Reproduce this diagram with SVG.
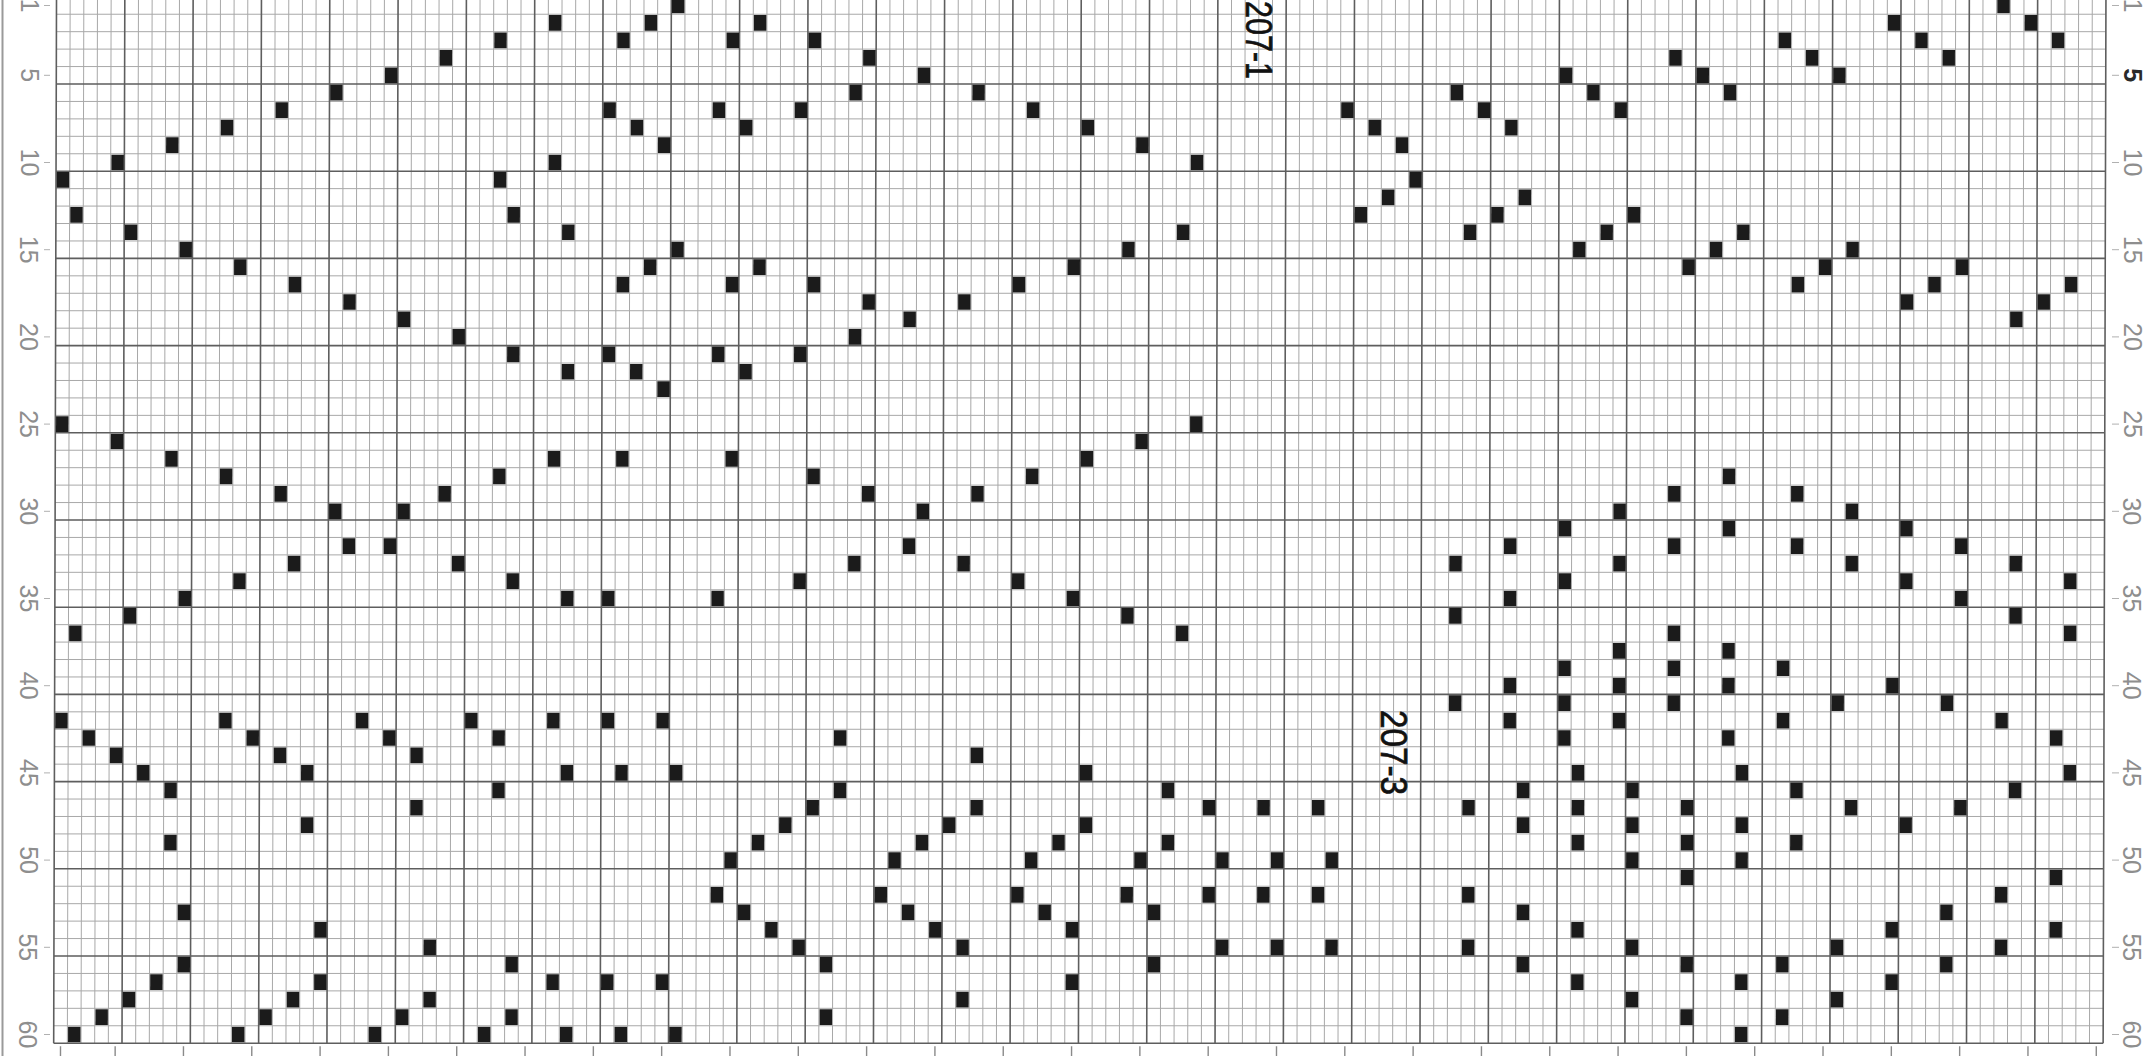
<svg xmlns="http://www.w3.org/2000/svg" width="2151" height="1056" viewBox="0 0 2151 1056">
<style>
.minor{fill:none;stroke:#a8a8a8;stroke-width:1;vector-effect:non-scaling-stroke}
.major{fill:none;stroke:#5e5e5e;stroke-width:1.6;vector-effect:non-scaling-stroke}
.btick{fill:none;stroke:#8a8a8a;stroke-width:1.4;vector-effect:non-scaling-stroke}
.ltick{fill:none;stroke:#b0b0b0;stroke-width:1}
.lbl{font-family:"Liberation Sans",Arial,sans-serif;font-size:25px;fill:#8e8e8e}
.tag{font-family:"Liberation Sans",Arial,sans-serif;font-size:37px;fill:#111;stroke:#111;stroke-width:0.7}
.sq{fill:#1b1b1b}
</style>
<defs><rect id="s" class="sq" x="0.05" y="0.05" width="0.91" height="0.9"/></defs>
<rect width="2151" height="1056" fill="#fff"/>
<line x1="2.5" y1="0" x2="2.5" y2="1056" stroke="#9a9a9a" stroke-width="2"/>
<g id="grid" transform="matrix(13.663 0 -0.0471 17.44 56.51 -3.2)">
<path class="minor" d="M1 0V60M2 0V60M3 0V60M4 0V60M6 0V60M7 0V60M8 0V60M9 0V60M11 0V60M12 0V60M13 0V60M14 0V60M16 0V60M17 0V60M18 0V60M19 0V60M21 0V60M22 0V60M23 0V60M24 0V60M26 0V60M27 0V60M28 0V60M29 0V60M31 0V60M32 0V60M33 0V60M34 0V60M36 0V60M37 0V60M38 0V60M39 0V60M41 0V60M42 0V60M43 0V60M44 0V60M46 0V60M47 0V60M48 0V60M49 0V60M51 0V60M52 0V60M53 0V60M54 0V60M56 0V60M57 0V60M58 0V60M59 0V60M61 0V60M62 0V60M63 0V60M64 0V60M66 0V60M67 0V60M68 0V60M69 0V60M71 0V60M72 0V60M73 0V60M74 0V60M76 0V60M77 0V60M78 0V60M79 0V60M81 0V60M82 0V60M83 0V60M84 0V60M86 0V60M87 0V60M88 0V60M89 0V60M91 0V60M92 0V60M93 0V60M94 0V60M96 0V60M97 0V60M98 0V60M99 0V60M101 0V60M102 0V60M103 0V60M104 0V60M106 0V60M107 0V60M108 0V60M109 0V60M111 0V60M112 0V60M113 0V60M114 0V60M116 0V60M117 0V60M118 0V60M119 0V60M121 0V60M122 0V60M123 0V60M124 0V60M126 0V60M127 0V60M128 0V60M129 0V60M131 0V60M132 0V60M133 0V60M134 0V60M136 0V60M137 0V60M138 0V60M139 0V60M141 0V60M142 0V60M143 0V60M144 0V60M146 0V60M147 0V60M148 0V60M149 0V60"/>
<path class="minor" d="M0 1H150M0 2H150M0 3H150M0 4H150M0 6H150M0 7H150M0 8H150M0 9H150M0 11H150M0 12H150M0 13H150M0 14H150M0 16H150M0 17H150M0 18H150M0 19H150M0 21H150M0 22H150M0 23H150M0 24H150M0 26H150M0 27H150M0 28H150M0 29H150M0 31H150M0 32H150M0 33H150M0 34H150M0 36H150M0 37H150M0 38H150M0 39H150M0 41H150M0 42H150M0 43H150M0 44H150M0 46H150M0 47H150M0 48H150M0 49H150M0 51H150M0 52H150M0 53H150M0 54H150M0 56H150M0 57H150M0 58H150M0 59H150"/>
<path class="major" d="M0 0V60M5 0V60M10 0V60M15 0V60M20 0V60M25 0V60M30 0V60M35 0V60M40 0V60M45 0V60M50 0V60M55 0V60M60 0V60M65 0V60M70 0V60M75 0V60M80 0V60M85 0V60M90 0V60M95 0V60M100 0V60M105 0V60M110 0V60M115 0V60M120 0V60M125 0V60M130 0V60M135 0V60M140 0V60M145 0V60M150 0V60M0 0H150M0 5H150M0 10H150M0 15H150M0 20H150M0 25H150M0 30H150M0 35H150M0 40H150M0 45H150M0 50H150M0 55H150M0 60H150"/>
<path class="btick" d="M0.5 60.17V60.8M4.5 60.17V60.8M9.5 60.17V60.8M14.5 60.17V60.8M19.5 60.17V60.8M24.5 60.17V60.8M29.5 60.17V60.8M34.5 60.17V60.8M39.5 60.17V60.8M44.5 60.17V60.8M49.5 60.17V60.8M54.5 60.17V60.8M59.5 60.17V60.8M64.5 60.17V60.8M69.5 60.17V60.8M74.5 60.17V60.8M79.5 60.17V60.8M84.5 60.17V60.8M89.5 60.17V60.8M94.5 60.17V60.8M99.5 60.17V60.8M104.5 60.17V60.8M109.5 60.17V60.8M114.5 60.17V60.8M119.5 60.17V60.8M124.5 60.17V60.8M129.5 60.17V60.8M134.5 60.17V60.8M139.5 60.17V60.8M144.5 60.17V60.8M149.5 60.17V60.8"/>
<g id="cells">
<use href="#s" x="45" y="0"/><use href="#s" x="142" y="0"/>
<use href="#s" x="36" y="1"/><use href="#s" x="43" y="1"/><use href="#s" x="51" y="1"/><use href="#s" x="134" y="1"/><use href="#s" x="144" y="1"/>
<use href="#s" x="32" y="2"/><use href="#s" x="41" y="2"/><use href="#s" x="49" y="2"/><use href="#s" x="55" y="2"/><use href="#s" x="126" y="2"/><use href="#s" x="136" y="2"/><use href="#s" x="146" y="2"/>
<use href="#s" x="28" y="3"/><use href="#s" x="59" y="3"/><use href="#s" x="118" y="3"/><use href="#s" x="128" y="3"/><use href="#s" x="138" y="3"/>
<use href="#s" x="24" y="4"/><use href="#s" x="63" y="4"/><use href="#s" x="110" y="4"/><use href="#s" x="120" y="4"/><use href="#s" x="130" y="4"/>
<use href="#s" x="20" y="5"/><use href="#s" x="58" y="5"/><use href="#s" x="67" y="5"/><use href="#s" x="102" y="5"/><use href="#s" x="112" y="5"/><use href="#s" x="122" y="5"/>
<use href="#s" x="16" y="6"/><use href="#s" x="40" y="6"/><use href="#s" x="48" y="6"/><use href="#s" x="54" y="6"/><use href="#s" x="71" y="6"/><use href="#s" x="94" y="6"/><use href="#s" x="104" y="6"/><use href="#s" x="114" y="6"/>
<use href="#s" x="12" y="7"/><use href="#s" x="42" y="7"/><use href="#s" x="50" y="7"/><use href="#s" x="75" y="7"/><use href="#s" x="96" y="7"/><use href="#s" x="106" y="7"/>
<use href="#s" x="8" y="8"/><use href="#s" x="44" y="8"/><use href="#s" x="79" y="8"/><use href="#s" x="98" y="8"/>
<use href="#s" x="4" y="9"/><use href="#s" x="36" y="9"/><use href="#s" x="83" y="9"/>
<use href="#s" x="0" y="10"/><use href="#s" x="32" y="10"/><use href="#s" x="99" y="10"/>
<use href="#s" x="97" y="11"/><use href="#s" x="107" y="11"/>
<use href="#s" x="1" y="12"/><use href="#s" x="33" y="12"/><use href="#s" x="95" y="12"/><use href="#s" x="105" y="12"/><use href="#s" x="115" y="12"/>
<use href="#s" x="5" y="13"/><use href="#s" x="37" y="13"/><use href="#s" x="82" y="13"/><use href="#s" x="103" y="13"/><use href="#s" x="113" y="13"/><use href="#s" x="123" y="13"/>
<use href="#s" x="9" y="14"/><use href="#s" x="45" y="14"/><use href="#s" x="78" y="14"/><use href="#s" x="111" y="14"/><use href="#s" x="121" y="14"/><use href="#s" x="131" y="14"/>
<use href="#s" x="13" y="15"/><use href="#s" x="43" y="15"/><use href="#s" x="51" y="15"/><use href="#s" x="74" y="15"/><use href="#s" x="119" y="15"/><use href="#s" x="129" y="15"/><use href="#s" x="139" y="15"/>
<use href="#s" x="17" y="16"/><use href="#s" x="41" y="16"/><use href="#s" x="49" y="16"/><use href="#s" x="55" y="16"/><use href="#s" x="70" y="16"/><use href="#s" x="127" y="16"/><use href="#s" x="137" y="16"/><use href="#s" x="147" y="16"/>
<use href="#s" x="21" y="17"/><use href="#s" x="59" y="17"/><use href="#s" x="66" y="17"/><use href="#s" x="135" y="17"/><use href="#s" x="145" y="17"/>
<use href="#s" x="25" y="18"/><use href="#s" x="62" y="18"/><use href="#s" x="143" y="18"/>
<use href="#s" x="29" y="19"/><use href="#s" x="58" y="19"/>
<use href="#s" x="33" y="20"/><use href="#s" x="40" y="20"/><use href="#s" x="48" y="20"/><use href="#s" x="54" y="20"/>
<use href="#s" x="37" y="21"/><use href="#s" x="42" y="21"/><use href="#s" x="50" y="21"/>
<use href="#s" x="44" y="22"/>
<use href="#s" x="0" y="24"/><use href="#s" x="83" y="24"/>
<use href="#s" x="4" y="25"/><use href="#s" x="79" y="25"/>
<use href="#s" x="8" y="26"/><use href="#s" x="36" y="26"/><use href="#s" x="41" y="26"/><use href="#s" x="49" y="26"/><use href="#s" x="75" y="26"/>
<use href="#s" x="12" y="27"/><use href="#s" x="32" y="27"/><use href="#s" x="55" y="27"/><use href="#s" x="71" y="27"/><use href="#s" x="122" y="27"/>
<use href="#s" x="16" y="28"/><use href="#s" x="28" y="28"/><use href="#s" x="59" y="28"/><use href="#s" x="67" y="28"/><use href="#s" x="118" y="28"/><use href="#s" x="127" y="28"/>
<use href="#s" x="20" y="29"/><use href="#s" x="25" y="29"/><use href="#s" x="63" y="29"/><use href="#s" x="114" y="29"/><use href="#s" x="131" y="29"/>
<use href="#s" x="110" y="30"/><use href="#s" x="122" y="30"/><use href="#s" x="135" y="30"/>
<use href="#s" x="21" y="31"/><use href="#s" x="24" y="31"/><use href="#s" x="62" y="31"/><use href="#s" x="106" y="31"/><use href="#s" x="118" y="31"/><use href="#s" x="127" y="31"/><use href="#s" x="139" y="31"/>
<use href="#s" x="17" y="32"/><use href="#s" x="29" y="32"/><use href="#s" x="58" y="32"/><use href="#s" x="66" y="32"/><use href="#s" x="102" y="32"/><use href="#s" x="114" y="32"/><use href="#s" x="131" y="32"/><use href="#s" x="143" y="32"/>
<use href="#s" x="13" y="33"/><use href="#s" x="33" y="33"/><use href="#s" x="54" y="33"/><use href="#s" x="70" y="33"/><use href="#s" x="110" y="33"/><use href="#s" x="135" y="33"/><use href="#s" x="147" y="33"/>
<use href="#s" x="9" y="34"/><use href="#s" x="37" y="34"/><use href="#s" x="40" y="34"/><use href="#s" x="48" y="34"/><use href="#s" x="74" y="34"/><use href="#s" x="106" y="34"/><use href="#s" x="139" y="34"/>
<use href="#s" x="5" y="35"/><use href="#s" x="78" y="35"/><use href="#s" x="102" y="35"/><use href="#s" x="143" y="35"/>
<use href="#s" x="1" y="36"/><use href="#s" x="82" y="36"/><use href="#s" x="118" y="36"/><use href="#s" x="147" y="36"/>
<use href="#s" x="114" y="37"/><use href="#s" x="122" y="37"/>
<use href="#s" x="110" y="38"/><use href="#s" x="118" y="38"/><use href="#s" x="126" y="38"/>
<use href="#s" x="106" y="39"/><use href="#s" x="114" y="39"/><use href="#s" x="122" y="39"/><use href="#s" x="134" y="39"/>
<use href="#s" x="102" y="40"/><use href="#s" x="110" y="40"/><use href="#s" x="118" y="40"/><use href="#s" x="130" y="40"/><use href="#s" x="138" y="40"/>
<use href="#s" x="0" y="41"/><use href="#s" x="12" y="41"/><use href="#s" x="22" y="41"/><use href="#s" x="30" y="41"/><use href="#s" x="36" y="41"/><use href="#s" x="40" y="41"/><use href="#s" x="44" y="41"/><use href="#s" x="106" y="41"/><use href="#s" x="114" y="41"/><use href="#s" x="126" y="41"/><use href="#s" x="142" y="41"/>
<use href="#s" x="2" y="42"/><use href="#s" x="14" y="42"/><use href="#s" x="24" y="42"/><use href="#s" x="32" y="42"/><use href="#s" x="57" y="42"/><use href="#s" x="110" y="42"/><use href="#s" x="122" y="42"/><use href="#s" x="146" y="42"/>
<use href="#s" x="4" y="43"/><use href="#s" x="16" y="43"/><use href="#s" x="26" y="43"/><use href="#s" x="67" y="43"/>
<use href="#s" x="6" y="44"/><use href="#s" x="18" y="44"/><use href="#s" x="37" y="44"/><use href="#s" x="41" y="44"/><use href="#s" x="45" y="44"/><use href="#s" x="75" y="44"/><use href="#s" x="111" y="44"/><use href="#s" x="123" y="44"/><use href="#s" x="147" y="44"/>
<use href="#s" x="8" y="45"/><use href="#s" x="32" y="45"/><use href="#s" x="57" y="45"/><use href="#s" x="81" y="45"/><use href="#s" x="107" y="45"/><use href="#s" x="115" y="45"/><use href="#s" x="127" y="45"/><use href="#s" x="143" y="45"/>
<use href="#s" x="26" y="46"/><use href="#s" x="55" y="46"/><use href="#s" x="67" y="46"/><use href="#s" x="84" y="46"/><use href="#s" x="88" y="46"/><use href="#s" x="92" y="46"/><use href="#s" x="103" y="46"/><use href="#s" x="111" y="46"/><use href="#s" x="119" y="46"/><use href="#s" x="131" y="46"/><use href="#s" x="139" y="46"/>
<use href="#s" x="18" y="47"/><use href="#s" x="53" y="47"/><use href="#s" x="65" y="47"/><use href="#s" x="75" y="47"/><use href="#s" x="107" y="47"/><use href="#s" x="115" y="47"/><use href="#s" x="123" y="47"/><use href="#s" x="135" y="47"/>
<use href="#s" x="8" y="48"/><use href="#s" x="51" y="48"/><use href="#s" x="63" y="48"/><use href="#s" x="73" y="48"/><use href="#s" x="81" y="48"/><use href="#s" x="111" y="48"/><use href="#s" x="119" y="48"/><use href="#s" x="127" y="48"/>
<use href="#s" x="49" y="49"/><use href="#s" x="61" y="49"/><use href="#s" x="71" y="49"/><use href="#s" x="79" y="49"/><use href="#s" x="85" y="49"/><use href="#s" x="89" y="49"/><use href="#s" x="93" y="49"/><use href="#s" x="115" y="49"/><use href="#s" x="123" y="49"/>
<use href="#s" x="119" y="50"/><use href="#s" x="146" y="50"/>
<use href="#s" x="48" y="51"/><use href="#s" x="60" y="51"/><use href="#s" x="70" y="51"/><use href="#s" x="78" y="51"/><use href="#s" x="84" y="51"/><use href="#s" x="88" y="51"/><use href="#s" x="92" y="51"/><use href="#s" x="103" y="51"/><use href="#s" x="142" y="51"/>
<use href="#s" x="9" y="52"/><use href="#s" x="50" y="52"/><use href="#s" x="62" y="52"/><use href="#s" x="72" y="52"/><use href="#s" x="80" y="52"/><use href="#s" x="107" y="52"/><use href="#s" x="138" y="52"/>
<use href="#s" x="19" y="53"/><use href="#s" x="52" y="53"/><use href="#s" x="64" y="53"/><use href="#s" x="74" y="53"/><use href="#s" x="111" y="53"/><use href="#s" x="134" y="53"/><use href="#s" x="146" y="53"/>
<use href="#s" x="27" y="54"/><use href="#s" x="54" y="54"/><use href="#s" x="66" y="54"/><use href="#s" x="85" y="54"/><use href="#s" x="89" y="54"/><use href="#s" x="93" y="54"/><use href="#s" x="103" y="54"/><use href="#s" x="115" y="54"/><use href="#s" x="130" y="54"/><use href="#s" x="142" y="54"/>
<use href="#s" x="9" y="55"/><use href="#s" x="33" y="55"/><use href="#s" x="56" y="55"/><use href="#s" x="80" y="55"/><use href="#s" x="107" y="55"/><use href="#s" x="119" y="55"/><use href="#s" x="126" y="55"/><use href="#s" x="138" y="55"/>
<use href="#s" x="7" y="56"/><use href="#s" x="19" y="56"/><use href="#s" x="36" y="56"/><use href="#s" x="40" y="56"/><use href="#s" x="44" y="56"/><use href="#s" x="74" y="56"/><use href="#s" x="111" y="56"/><use href="#s" x="123" y="56"/><use href="#s" x="134" y="56"/>
<use href="#s" x="5" y="57"/><use href="#s" x="17" y="57"/><use href="#s" x="27" y="57"/><use href="#s" x="66" y="57"/><use href="#s" x="115" y="57"/><use href="#s" x="130" y="57"/>
<use href="#s" x="3" y="58"/><use href="#s" x="15" y="58"/><use href="#s" x="25" y="58"/><use href="#s" x="33" y="58"/><use href="#s" x="56" y="58"/><use href="#s" x="119" y="58"/><use href="#s" x="126" y="58"/>
<use href="#s" x="1" y="59"/><use href="#s" x="13" y="59"/><use href="#s" x="23" y="59"/><use href="#s" x="31" y="59"/><use href="#s" x="37" y="59"/><use href="#s" x="41" y="59"/><use href="#s" x="45" y="59"/><use href="#s" x="123" y="59"/>
</g>
</g>
<g id="row-ticks">
<path class="ltick" d="M44 5.5H50M44 75.3H50M44 162.5H50M44 249.7H50M44 336.9H50M44 424.1H50M44 511.3H50M44 598.5H50M44 685.7H50M44 772.9H50M44 860.1H50M44 947.3H50M44 1034.5H50"/>
<path class="ltick" d="M2112 5.5H2119M2112 75.3H2119M2112 162.5H2119M2112 249.7H2119M2112 336.9H2119M2112 424.1H2119M2112 511.3H2119M2112 598.5H2119M2112 685.7H2119M2112 772.9H2119M2112 860.1H2119M2112 947.3H2119M2112 1034.5H2119"/>
</g>
<g id="left-labels" class="lbl" text-anchor="middle">
<text transform="translate(20.5 5.5) rotate(90)">1</text>
<text transform="translate(20.5 75.3) rotate(90)">5</text>
<text transform="translate(20.5 162.5) rotate(90)">10</text>
<text transform="translate(20.3 249.7) rotate(90)">15</text>
<text transform="translate(20.2 336.9) rotate(90)">20</text>
<text transform="translate(20.1 424.1) rotate(90)">25</text>
<text transform="translate(20 511.3) rotate(90)">30</text>
<text transform="translate(19.9 598.5) rotate(90)">35</text>
<text transform="translate(19.8 685.7) rotate(90)">40</text>
<text transform="translate(19.6 772.9) rotate(90)">45</text>
<text transform="translate(19.5 860.1) rotate(90)">50</text>
<text transform="translate(19.4 947.3) rotate(90)">55</text>
<text transform="translate(19.3 1034.5) rotate(90)">60</text>
</g>
<g id="right-labels" class="lbl" text-anchor="middle">
<text transform="translate(2124 5.5) rotate(90)">1</text>
<text transform="translate(2124 75.3) rotate(90)" style="fill:#2a2a2a;font-weight:bold">5</text>
<text transform="translate(2124 162.5) rotate(90)">10</text>
<text transform="translate(2124 249.7) rotate(90)">15</text>
<text transform="translate(2124 336.9) rotate(90)">20</text>
<text transform="translate(2124 424.1) rotate(90)">25</text>
<text transform="translate(2123 511.3) rotate(90)">30</text>
<text transform="translate(2123 598.5) rotate(90)">35</text>
<text transform="translate(2123 685.7) rotate(90)">40</text>
<text transform="translate(2123 772.9) rotate(90)">45</text>
<text transform="translate(2123 860.1) rotate(90)">50</text>
<text transform="translate(2123 947.3) rotate(90)">55</text>
<text transform="translate(2123 1034.5) rotate(90)">60</text>
</g>
<g id="tags" class="tag">
<text transform="translate(1246 1) rotate(90)" textLength="78" lengthAdjust="spacingAndGlyphs">207-1</text>
<text transform="translate(1381 710) rotate(90)" textLength="85" lengthAdjust="spacingAndGlyphs">207-3</text>
</g>
</svg>
